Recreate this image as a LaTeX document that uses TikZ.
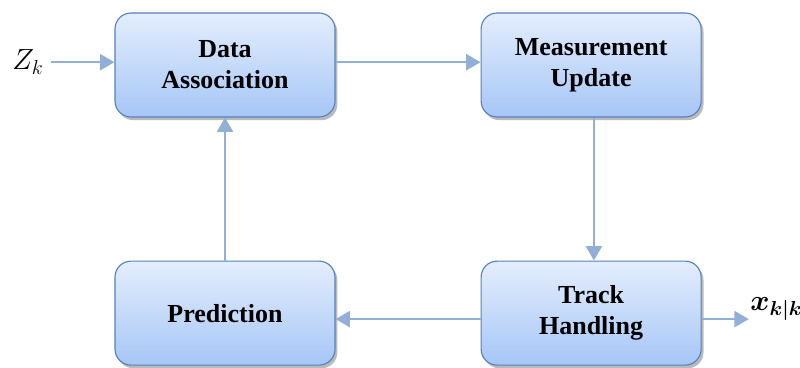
\documentclass[tikz,border=0pt]{standalone}
\usepackage{amsmath}
\usepackage{fontspec}
\setmainfont{Liberation Serif}
\usetikzlibrary{arrows.meta,positioning,shadows}
\definecolor{boxline}{RGB}{84,130,190}
\definecolor{boxtop}{RGB}{228,238,253}
\definecolor{boxbottom}{RGB}{166,198,246}
\definecolor{flow}{RGB}{145,175,215}
\begin{document}
\begin{tikzpicture}[node distance=3.575cm and 3.625cm,every node/.style={font=\fontsize{18.5}{22}\selectfont},block/.style={rectangle,rounded corners=4mm,draw=boxline,thick,top color=boxtop,bottom color=boxbottom,minimum width=5.5cm,minimum height=2.6cm,align=center,font=\fontsize{18.5}{22}\selectfont\bfseries,drop shadow={shadow xshift=0.6mm,shadow yshift=-0.8mm,fill=black!45,opacity=0.6}},label/.style={font=\fontsize{22}{26}\selectfont,inner sep=1pt},arrow/.style={-{Triangle[length=3.6mm,width=4mm]},draw=flow,fill=flow,line width=1.8pt}]
\useasboundingbox(0,0)rectangle(20,9.175);
\node[label](zk)at(0.7,7.62){$Z_k$};
\node[block](assoc)at(5.625,7.55){Data\\Association};
\node[block,right=of assoc](update){Measurement\\Update};
\node[block,below=of update](handling){Track\\Handling};
\node[block,below=of assoc](predict){Prediction};
\node[label,anchor=west,font=\fontsize{19.5}{23}\selectfont](xkk)at(18.72,1.45){$\boldsymbol{x_{k|k}}$};
\draw[arrow]([xshift=0.15cm]zk.east)--(zk-|assoc.west);\draw[arrow]([yshift=0.07cm]assoc.east)--([yshift=0.07cm]update.west);\draw[arrow]([xshift=0.07cm]update.south)--([xshift=0.07cm]handling.north);\draw[arrow]([yshift=-0.15cm]handling.west)--([yshift=-0.15cm]predict.east);\draw[arrow](predict)--(assoc);\draw[arrow]([yshift=-0.15cm]handling.east)--([yshift=-0.15cm]handling.east-|xkk.west);
\end{tikzpicture}
\end{document}
